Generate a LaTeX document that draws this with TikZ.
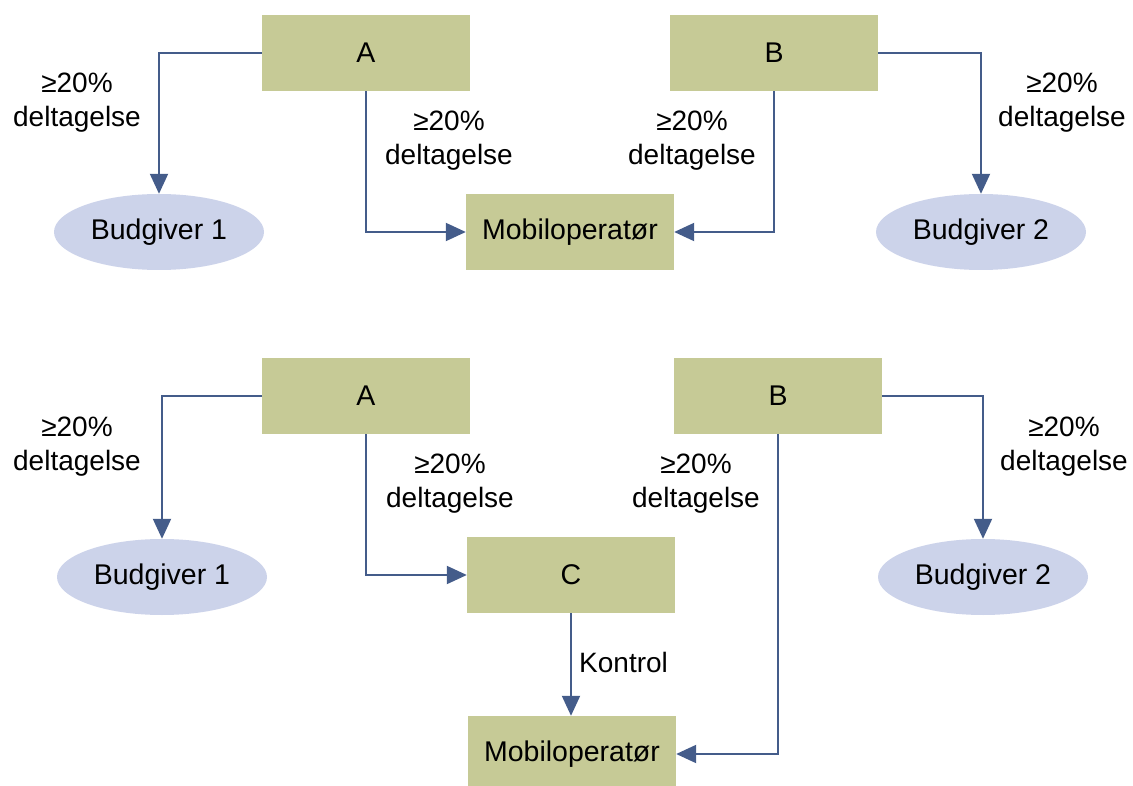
\documentclass[tikz,border=0pt]{standalone}
\usepackage{fontspec}
\setmainfont{Liberation Sans}
\usetikzlibrary{arrows.meta,shapes.geometric}
\definecolor{boxfill}{RGB}{198,202,150}
\definecolor{ellfill}{RGB}{204,211,234}
\definecolor{arrcol}{RGB}{68,92,138}
\tikzset{
  box/.style={rectangle, fill=boxfill, minimum width=208pt, minimum height=76pt, inner sep=0pt, font=\fontsize{28.5}{34}\selectfont},
  ell/.style={ellipse, fill=ellfill, minimum width=210pt, minimum height=76pt, inner sep=0pt, font=\fontsize{28.5}{34}\selectfont},
  lbl/.style={align=center, inner sep=0pt, font=\fontsize{28}{34}\selectfont},
  arr/.style={draw=arrcol, line width=2pt, -{Triangle[width=18pt,length=20pt]}, fill=none}
}
\begin{document}
\begin{tikzpicture}[x=1pt,y=-1pt]
\useasboundingbox (0,0) rectangle (1133,786);
% top diagram
\node[box] (A1) at (366,53) {A};
\node[box] (B1) at (774,53) {B};
\node[box] (M1) at (570,232) {Mobiloperatør};
\node[ell] (E11) at (159,232) {Budgiver 1};
\node[ell] (E12) at (981,232) {Budgiver 2};
\draw[arr] (A1.west) -| (E11.north);
\draw[arr] (A1.south) |- (M1.west);
\draw[arr] (B1.south) |- (M1.east);
\draw[arr] (B1.east) -| (E12.north);
\node[lbl] (t1) at (77,103) {≥20\%\\deltagelse};
\node[lbl] (t2) at (449,141) {≥20\%\\deltagelse};
\node[lbl] (t3) at (692,141) {≥20\%\\deltagelse};
\node[lbl] (t4) at (1062,103) {≥20\%\\deltagelse};
% bottom diagram
\node[box] (A2) at (366,396) {A};
\node[box] (B2) at (778,396) {B};
\node[box] (C2) at (571,575) {C};
\node[box] (M2) at (572,754) {Mobiloperatør};
\node[ell] (E21) at (162,577) {Budgiver 1};
\node[ell] (E22) at (983,577) {Budgiver 2};
\draw[arr] (A2.west) -| (E21.north);
\draw[arr] (A2.south) |- (C2.west);
\draw[arr] (C2.south) -- (M2.north -| C2.south);
\draw[arr] (B2.south) |- (M2.east);
\draw[arr] (B2.east) -| (E22.north);
\node[lbl] (b1) at (77,447) {≥20\%\\deltagelse};
\node[lbl] (b2) at (450,484) {≥20\%\\deltagelse};
\node[lbl] (b3) at (696,484) {≥20\%\\deltagelse};
\node[lbl] (b4) at (1064,447) {≥20\%\\deltagelse};
\node[lbl, anchor=west] (k) at (579,662) {Kontrol};
\end{tikzpicture}
\end{document}
